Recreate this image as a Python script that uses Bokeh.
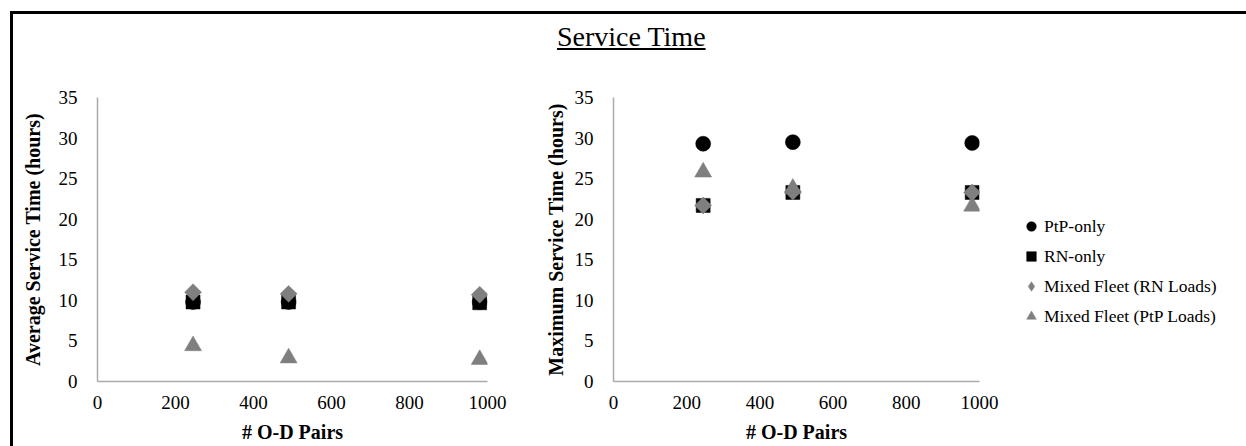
import numpy as np
from bokeh.plotting import figure
from bokeh.models import FixedTicker, Legend, LegendItem, Div
from bokeh.layouts import column, row
from bokeh.embed import file_html
from bokeh.resources import INLINE

# ---- data ----
od_pairs = [245, 490, 980]
series_names = ["PtP-only", "RN-only", "Mixed Fleet (RN Loads)", "Mixed Fleet (PtP Loads)"]
avg_ptp = [9.8, 9.8, 9.8]
avg_rn = [9.8, 9.8, 9.7]
avg_mixed_rn = [11.0, 10.8, 10.7]
avg_mixed_ptp = [4.4, 2.9, 2.7]
max_ptp = [29.3, 29.5, 29.4]
max_rn = [21.7, 23.3, 23.3]
max_mixed_rn = [21.7, 23.4, 23.3]
max_mixed_ptp = [25.8, 23.8, 21.6]
x_ticks = [0, 200, 400, 600, 800, 1000]
y_ticks = [0, 5, 10, 15, 20, 25, 30, 35]
chart_title = "Service Time"
x_title = "# O-D Pairs"
y_title_left = "Average Service Time (hours)"
y_title_right = "Maximum Service Time (hours)"

FONT = "Liberation Serif"
GRAY = "#7f7f7f"
styles = [
    dict(marker="circle", size=15, color="black", angle=0.0),
    dict(marker="square", size=14, color="black", angle=0.0),
    dict(marker="square", size=12, color=GRAY, angle=np.pi / 4),
    dict(marker="triangle", size=17, color=GRAY, angle=0.0),
]
legend_markers = ["circle", "square", "diamond", "triangle"]


def make_fig(width, mbl, mbr, ytitle, title_standoff, values):
    p = figure(width=width, height=384, x_range=(0, 1000), y_range=(0, 35),
               output_backend="svg", toolbar_location=None,
               min_border_left=mbl, min_border_right=mbr,
               min_border_top=35, min_border_bottom=65, margin=0)
    p.outline_line_color = None
    p.grid.visible = False
    p.background_fill_color = "white"
    p.border_fill_color = "white"
    for ax in (p.xaxis[0], p.yaxis[0]):
        ax.axis_line_color = "#ababab"
        ax.axis_line_width = 1.5
        ax.major_tick_line_color = None
        ax.minor_tick_line_color = None
        ax.major_label_text_font = FONT
        ax.major_label_text_font_size = "19px"
        ax.major_label_text_color = "black"
        ax.axis_label_text_font = FONT
        ax.axis_label_text_font_size = "20px"
        ax.axis_label_text_font_style = "bold"
        ax.axis_label_text_color = "black"
    p.xaxis.ticker = FixedTicker(ticks=x_ticks)
    p.yaxis.ticker = FixedTicker(ticks=y_ticks)
    p.xaxis.axis_label = x_title
    p.yaxis.axis_label = ytitle
    p.xaxis.major_label_standoff = 8
    p.xaxis.axis_label_standoff = 9
    p.yaxis.major_label_standoff = 14
    p.yaxis.axis_label_standoff = title_standoff
    for vals, st in zip(values, styles):
        p.scatter(od_pairs, vals, marker=st["marker"], size=st["size"],
                  angle=st["angle"], fill_color=st["color"],
                  line_color=st["color"], line_width=0.5)
    return p


p1 = make_fig(507, 84, 33, y_title_left, 12,
              [avg_ptp, avg_rn, avg_mixed_rn, avg_mixed_ptp])
p2 = make_fig(479, 93, 20, y_title_right, 5,
              [max_ptp, max_rn, max_mixed_rn, max_mixed_ptp])

# legend panel: hidden copies of the right-hand series, shown only as legend keys
p3 = figure(width=240, height=384, x_range=(0, 1000), y_range=(0, 35),
            output_backend="svg", toolbar_location=None,
            x_axis_location=None, y_axis_location=None,
            min_border_left=0, min_border_right=0, min_border_top=0,
            min_border_bottom=0, margin=0)
p3.outline_line_color = None
p3.grid.visible = False
items = []
for name, vals, st, mk in zip(series_names,
                              [max_ptp, max_rn, max_mixed_rn, max_mixed_ptp],
                              styles, legend_markers):
    r = p3.scatter(od_pairs, vals, marker=mk, size=st["size"],
                   fill_color=st["color"], line_color=st["color"], line_width=0.5)
    r.visible = False
    items.append(LegendItem(label=name, renderers=[r]))

legend = Legend(items=items, location=(20, 53), glyph_width=24, glyph_height=24,
                spacing=6, padding=0, margin=0, label_standoff=1, label_height=24,
                border_line_color=None, background_fill_alpha=0,
                label_text_font=FONT, label_text_font_size="17.5px",
                label_text_color="black", click_policy="none")
p3.add_layout(legend, "center")

title_div = Div(
    text=(f'<div style="font-family:\'{FONT}\';font-size:28px;line-height:28px;'
          f'padding-left:544px;padding-top:9px;color:black;white-space:nowrap">'
          f'<span style="text-decoration:underline">{chart_title}</span></div>'),
    width=1219, height=48, margin=0)

content = column(title_div, row(p1, p2, p3, margin=0), margin=0)
top_line = Div(text="", width=1236, height=3, margin=0, styles={"background-color": "black"})
left_line = Div(text="", width=3, height=432, margin=0, styles={"background-color": "black"})
layout = column(top_line, row(left_line, content, margin=0), margin=(11, 0, 0, 10))

open("out.html", "w").write(file_html(layout, INLINE))
